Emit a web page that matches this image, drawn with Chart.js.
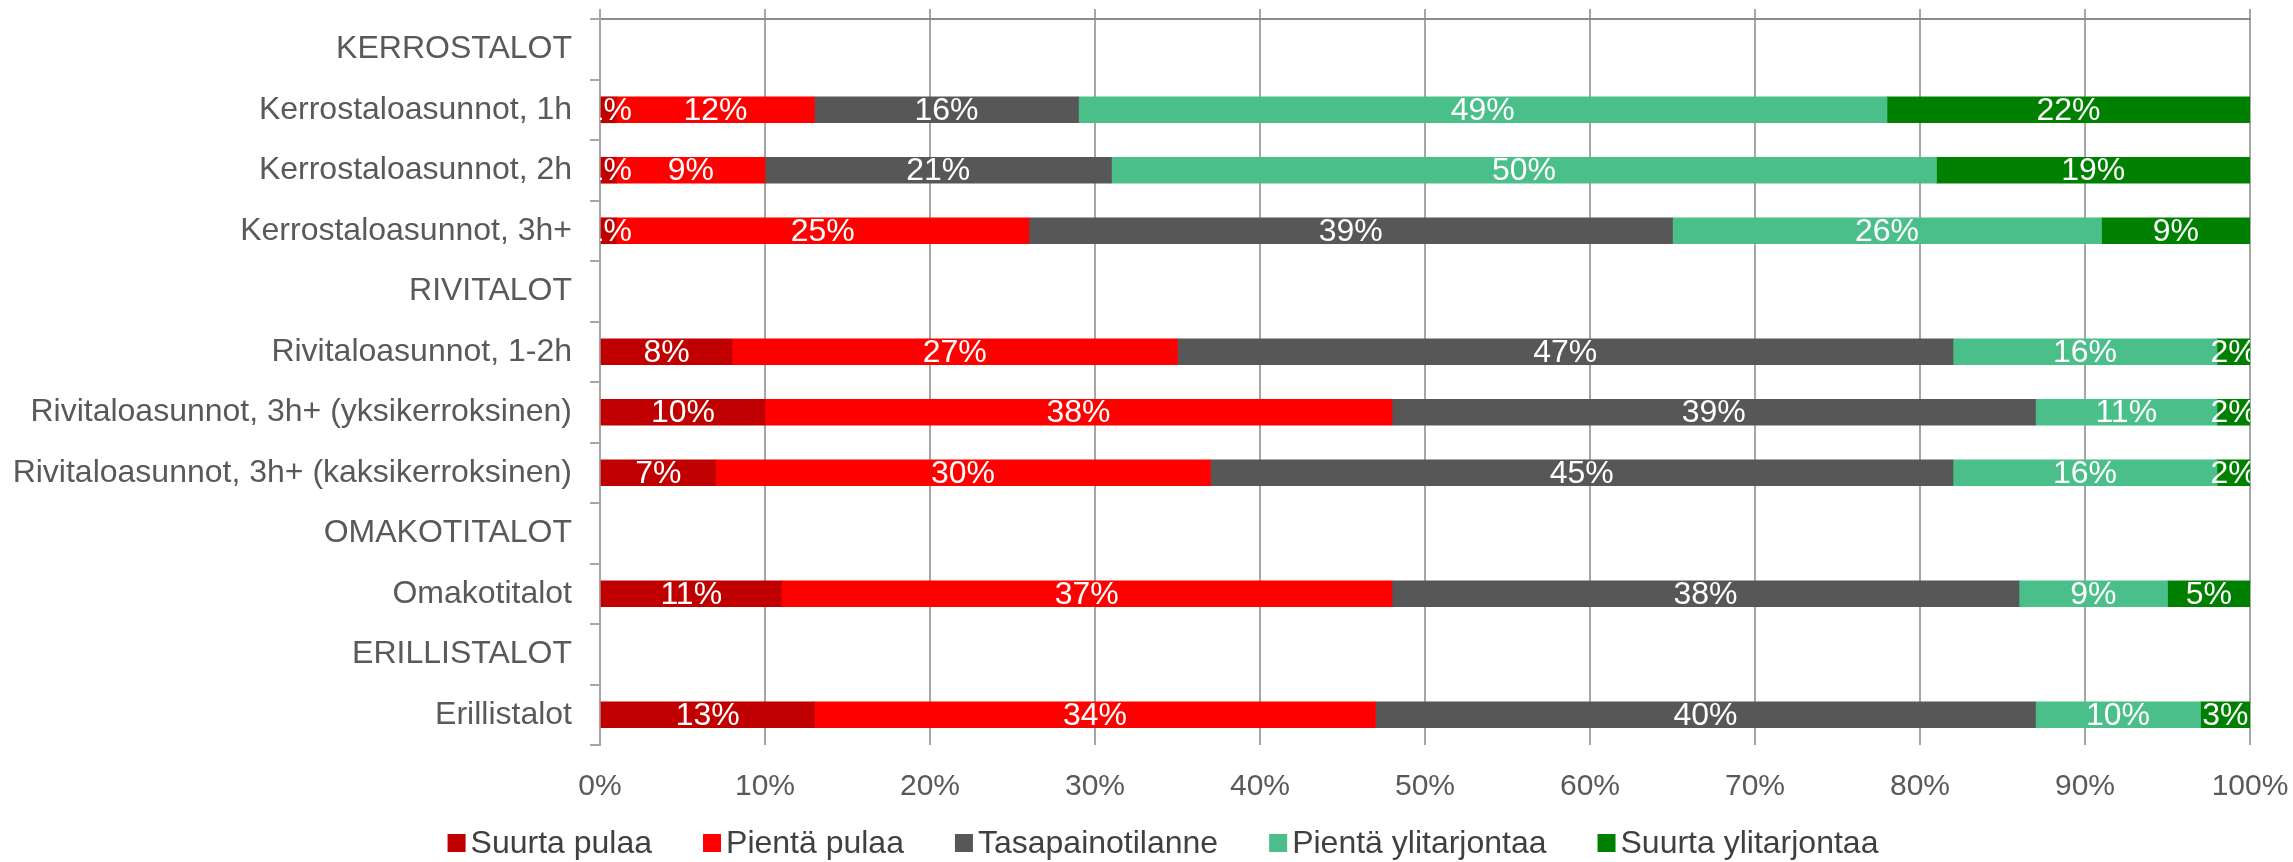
<!DOCTYPE html>
<html>
<head>
<meta charset="utf-8">
<script src="https://cdn.jsdelivr.net/npm/chart.js@4/dist/chart.umd.min.js"></script>
<style>
  html, body { margin: 0; padding: 0; background: #ffffff; }
  #chart { display: block; }
</style>
</head>
<body>
<canvas id="chart" width="2293" height="862"></canvas>
<script>
// Categories (top to bottom)
const categories = [
    'KERROSTALOT',
    'Kerrostaloasunnot, 1h',
    'Kerrostaloasunnot, 2h',
    'Kerrostaloasunnot, 3h+',
    'RIVITALOT',
    'Rivitaloasunnot, 1-2h',
    'Rivitaloasunnot, 3h+ (yksikerroksinen)',
    'Rivitaloasunnot, 3h+ (kaksikerroksinen)',
    'OMAKOTITALOT',
    'Omakotitalot',
    'ERILLISTALOT',
    'Erillistalot'
];

// Series values, percent (null = group heading row)
const suurtaPulaa    = [null, 1, 1, 1, null, 8, 10, 7, null, 11, null, 13];
const pientaPulaa    = [null, 12, 9, 25, null, 27, 38, 30, null, 37, null, 34];
const tasapaino      = [null, 16, 21, 39, null, 47, 39, 45, null, 38, null, 40];
const pientaYli      = [null, 49, 50, 26, null, 16, 11, 16, null, 9, null, 10];
const suurtaYli      = [null, 22, 19, 9, null, 2, 2, 2, null, 5, null, 3];

const seriesNames = ['Suurta pulaa', 'Pientä pulaa', 'Tasapainotilanne', 'Pientä ylitarjontaa', 'Suurta ylitarjontaa'];
const seriesColors = ['#c00000', '#ff0000', '#575757', '#4bbf8a', '#008000'];
const seriesValues = [suurtaPulaa, pientaPulaa, tasapaino, pientaYli, suurtaYli];

const FONT = "'Liberation Sans', Arial, sans-serif";
const gridColor = '#a6a6a6';

// White value labels centred in each segment, clipped to the plot area
const segmentLabels = {
    id: 'segmentLabels',
    afterDatasetsDraw(chart) {
        const { ctx, chartArea } = chart;
        ctx.save();
        ctx.beginPath();
        ctx.rect(chartArea.left, chartArea.top, chartArea.right - chartArea.left, chartArea.bottom - chartArea.top);
        ctx.clip();
        ctx.fillStyle = '#ffffff';
        ctx.font = '32px ' + FONT;
        ctx.textAlign = 'center';
        ctx.textBaseline = 'middle';
        chart.data.datasets.forEach((ds, i) => {
            const meta = chart.getDatasetMeta(i);
            meta.data.forEach((bar, j) => {
                const v = ds.data[j];
                if (v === null || v === undefined) return;
                const p = bar.getCenterPoint();
                ctx.fillText(v + '%', p.x, p.y + 1);
            });
        });
        ctx.restore();
    }
};

// Excel-like legend row under the axis: small square, short gap, text
const bottomLegend = {
    id: 'bottomLegend',
    afterDraw(chart) {
        const { ctx } = chart;
        const box = 18, textGap = 5, itemGap = 51, centerX = 1163, centerY = 843;
        ctx.save();
        ctx.font = '32px ' + FONT;
        ctx.textBaseline = 'middle';
        ctx.textAlign = 'left';
        const items = chart.data.datasets.map(ds => ({
            text: ds.label, color: ds.backgroundColor, w: ctx.measureText(ds.label).width
        }));
        const total = items.reduce((s, it) => s + box + textGap + it.w, 0) + itemGap * (items.length - 1);
        let x = centerX - total / 2;
        items.forEach(it => {
            ctx.fillStyle = it.color;
            ctx.fillRect(x, centerY - box / 2, box, box);
            ctx.fillStyle = '#404040';
            ctx.fillText(it.text, x + box + textGap, centerY + 1);
            x += box + textGap + it.w + itemGap;
        });
        ctx.restore();
    }
};

new Chart(document.getElementById('chart'), {
    type: 'bar',
    data: {
        labels: categories,
        datasets: seriesNames.map((name, i) => ({
            label: name,
            data: seriesValues[i],
            backgroundColor: seriesColors[i],
            borderWidth: 0,
            barThickness: 26
        }))
    },
    options: {
        indexAxis: 'y',
        responsive: false,
        animation: false,
        events: [],
        layout: {
            padding: { top: 9, right: 43, bottom: 60, left: 0 }
        },
        plugins: {
            tooltip: { enabled: false },
            legend: { display: false }
        },
        scales: {
            x: {
                stacked: true,
                min: 0,
                max: 100,
                afterFit(scale) {
                    scale.height = 57;
                    scale.paddingLeft = 0;
                    scale.paddingRight = 0;
                },
                grid: { color: gridColor, lineWidth: 2, drawTicks: false },
                border: { display: false },
                ticks: {
                    stepSize: 10,
                    padding: 24,
                    color: '#595959',
                    font: { size: 30, family: FONT },
                    callback: v => v + '%'
                }
            },
            x2: {
                type: 'linear',
                position: 'top',
                min: 0,
                max: 100,
                afterFit(scale) {
                    scale.height = 10;
                    scale.paddingLeft = 0;
                    scale.paddingRight = 0;
                },
                grid: { color: gridColor, lineWidth: 2, drawOnChartArea: false, tickLength: 10 },
                border: { display: true, color: '#8c8c8c', width: 2 },
                ticks: { stepSize: 10, display: false }
            },
            y: {
                stacked: true,
                afterFit(scale) {
                    scale.width = 600;
                    scale.paddingTop = 0;
                    scale.paddingBottom = 0;
                },
                grid: { color: gridColor, lineWidth: 2, drawOnChartArea: false, tickLength: 10, offset: true },
                border: { display: true, color: gridColor, width: 2 },
                ticks: {
                    autoSkip: false,
                    padding: 18,
                    color: '#595959',
                    font: { size: 32, family: FONT }
                }
            }
        }
    },
    plugins: [segmentLabels, bottomLegend]
});
</script>
</body>
</html>
